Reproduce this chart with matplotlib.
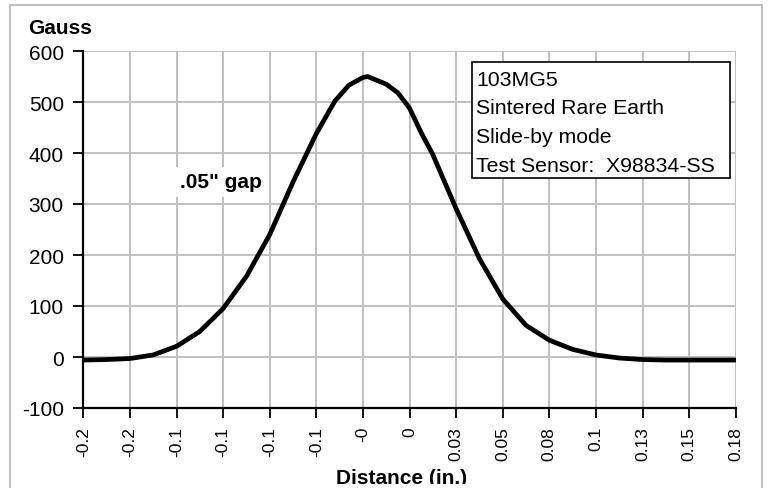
import matplotlib
matplotlib.use("Agg")
import matplotlib.pyplot as plt
from matplotlib.patches import Rectangle
from matplotlib.transforms import Bbox

plt.rcParams['font.family'] = ['Liberation Sans', 'DejaVu Sans']

# ---- data ----
distance = [-0.175, -0.1625, -0.15, -0.1375, -0.125, -0.1125, -0.1, -0.0875,
            -0.075, -0.0625, -0.05, -0.04, -0.0325, -0.025, -0.0225, -0.0125,
            -0.00625, 0.0, 0.00625, 0.0125, 0.025, 0.0375, 0.05, 0.0625,
            0.075, 0.0875, 0.1, 0.1125, 0.125, 0.1375, 0.15, 0.1625, 0.175]
gauss = [-6, -5, -3, 4, 21, 50, 95, 158, 240, 343, 438, 502, 533, 548, 550,
         535, 518, 488, 440, 397, 291, 193, 114, 62, 33, 15, 4, -2, -5, -6,
         -6, -6, -6]

tick_values = [-0.175, -0.15, -0.125, -0.1, -0.075, -0.05, -0.025, 0.0,
               0.025, 0.05, 0.075, 0.1, 0.125, 0.15, 0.175]
tick_labels = ["-0.2", "-0.2", "-0.1", "-0.1", "-0.1", "-0.1", "-0", "0",
               "0.03", "0.05", "0.08", "0.1", "0.13", "0.15", "0.18"]
y_ticks = [-100, 0, 100, 200, 300, 400, 500, 600]

info_lines = ["103MG5", "Sintered Rare Earth", "Slide-by mode",
              "Test Sensor:  X98834-SS"]
gap_label = '.05" gap'

FS = 15
FS_X = 12.5

# ---- figure ----
W, H = 774, 489
fig = plt.figure(figsize=(W / 100, H / 100), dpi=100)

def fx(px):
    return px / W

def fy(py):
    return 1 - py / H

# chart area border
fig.patches.append(Rectangle((fx(10), fy(495)), fx(762) - fx(10), fy(6) - fy(495),
                             transform=fig.transFigure, fill=False,
                             edgecolor='#c0c0c0', linewidth=1.5, zorder=0))

ax = fig.add_axes([fx(83.3), fy(409), fx(735.7) - fx(83.3), fy(52) - fy(409)])
ax.plot(distance, gauss, color='black', linewidth=3.4, solid_capstyle='round',
        solid_joinstyle='round', zorder=3)

ax.set_xlim(tick_values[0], tick_values[-1])
ax.set_ylim(-100, 600)
ax.set_xticks(tick_values)
ax.set_xticklabels(tick_labels, rotation=90, fontsize=FS_X)
ax.set_yticks(y_ticks)
ax.set_yticklabels([str(v) for v in y_ticks], fontsize=FS)
ax.tick_params(axis='both', direction='out', length=7, width=1.3, color='black')
ax.tick_params(axis='x', pad=6)
ax.tick_params(axis='y', pad=7)

ax.grid(True, color='#c0c0c0', linewidth=1.4)
ax.set_axisbelow(True)
for s in ['top', 'right']:
    ax.spines[s].set_visible(False)
for s in ['left', 'bottom']:
    ax.spines[s].set_linewidth(1.6)
    ax.spines[s].set_color('black')
    ax.spines[s].set_zorder(4)

# axis titles
fig.text(fx(28), fy(29), "Gauss", fontsize=FS, fontweight='bold',
         ha='left', va='center')
xt = fig.text(fx(402), fy(469), "Distance (in.)", fontsize=FS,
              fontweight='bold', ha='center', va='top')
xt.set_clip_box(Bbox.from_extents(0, H - 485, W, H))
xt.set_clip_on(True)

# gap label
fig.text(fx(220.5), fy(183), gap_label, fontsize=FS, fontweight='bold',
         ha='center', va='center', zorder=5,
         bbox=dict(facecolor='white', edgecolor='none', pad=4))

# info box
fig.patches.append(Rectangle((fx(471.7), fy(179.3)), fx(730) - fx(471.7),
                             fy(63.3) - fy(179.3), transform=fig.transFigure,
                             facecolor='white', edgecolor='black',
                             linewidth=1.2, zorder=5))
for i, line in enumerate(info_lines):
    fig.text(fx(476.5), fy(80 + i * 28.7), line, fontsize=FS + 0.3,
             ha='left', va='center', zorder=6)

fig.savefig("out.png", dpi=100)
